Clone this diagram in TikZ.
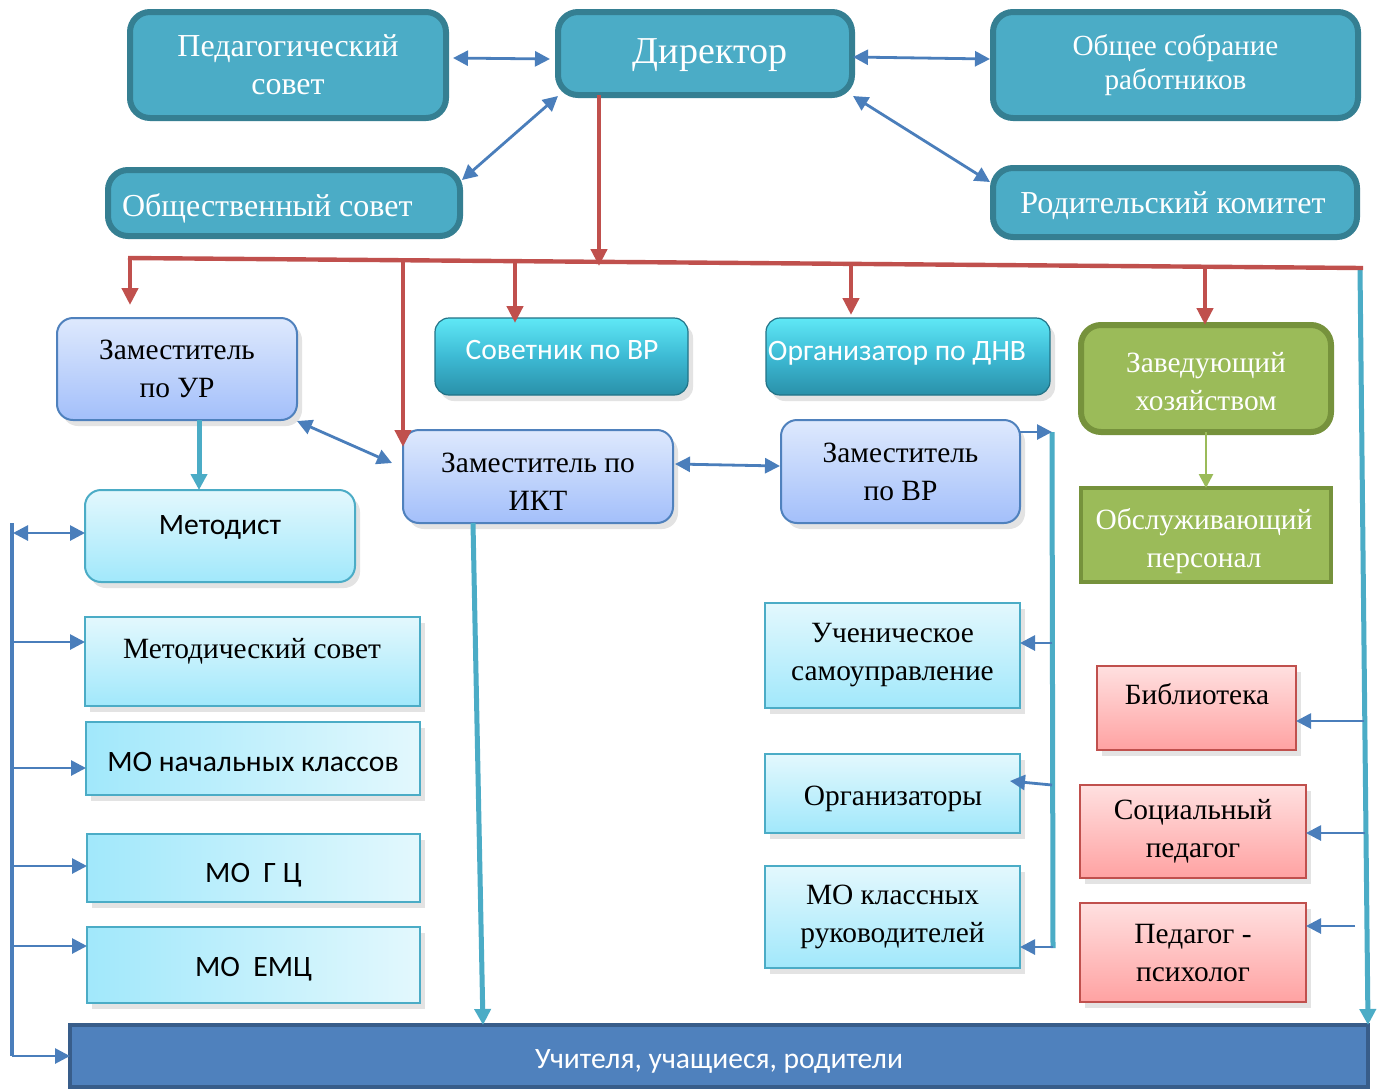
\documentclass[tikz,border=0pt]{standalone}
\usepackage{fontspec}
\setmainfont{Liberation Serif}
\newfontfamily\carl{Carlito}
\usetikzlibrary{arrows.meta,shadows,calc}
\definecolor{tFill}{HTML}{4BACC6}
\definecolor{tBord}{HTML}{357F92}
\definecolor{arrBlue}{HTML}{4A7EBB}
\definecolor{redL}{HTML}{C0504D}
\definecolor{tealL}{HTML}{4BACC6}
\definecolor{bTop}{HTML}{DEE9FD}
\definecolor{bBot}{HTML}{A3BFFA}
\definecolor{bBord}{HTML}{4F81BD}
\definecolor{cTop}{HTML}{E3F8FD}
\definecolor{cBot}{HTML}{A1E8FB}
\definecolor{cBord}{HTML}{4BACC6}
\definecolor{rTop}{HTML}{FFE0E0}
\definecolor{rBot}{HTML}{FFA2A2}
\definecolor{rBord}{HTML}{C0504D}
\definecolor{gFill}{HTML}{9BBB59}
\definecolor{gBord}{HTML}{76923C}
\definecolor{gArr}{HTML}{9BBB59}
\definecolor{sTop}{HTML}{5FE8F6}
\definecolor{sMid}{HTML}{3DBAD4}
\definecolor{sBot}{HTML}{2A90A9}
\definecolor{uFill}{HTML}{4F81BD}
\definecolor{uBord}{HTML}{385D8A}
\newcommand\mkbox[6]{\node[#6,anchor=north west,minimum width={(#4-#2)*0.5pt},minimum height={(#5-#3)*0.5pt}] (#1) at (#2,#3)}
\begin{document}
\begin{tikzpicture}[x=0.5pt,y=-0.5pt,
  every node/.style={inner sep=0pt,outer sep=0pt,align=center},
  shad/.style={drop shadow={shadow xshift=2.5pt,shadow yshift=-3pt,opacity=0.22}},
  serifA/.style={font=\fontsize{14.7}{19}\selectfont},
  serifB/.style={font=\fontsize{16}{19}\selectfont},
  sansA/.style={font=\carl\fontsize{14.8}{18}\selectfont},
  topbox/.style={draw=tBord,line width=3pt,fill=tFill,rounded corners=10pt,text=white,serifB},
  bluebox/.style={shad,draw=bBord,line width=1pt,top color=bTop,bottom color=bBot,rounded corners=8pt,serifA},
  cyanbox/.style={shad,draw=cBord,line width=1pt,top color=cTop,bottom color=cBot,serifA},
  hcyan/.style={shad,draw=cBord,line width=1pt,left color=cBot,right color=cTop,sansA},
  redbox/.style={shad,draw=rBord,line width=1pt,top color=rTop,bottom color=rBot,serifA},
  greenbox/.style={draw=gBord,line width=3pt,fill=gFill,text=white,serifA},
  glossbox/.style={shad,draw=sBot!80!black,line width=0.6pt,top color=sTop,bottom color=sBot,middle color=sMid,rounded corners=7pt},
  allbox/.style={draw=uBord,line width=2pt,fill=uFill,text=white,sansA},
  redarr/.style={draw=redL,line width=2.2pt,-{Triangle[length=8.5pt,width=8pt]}},
  redline/.style={draw=redL,line width=2.2pt},
  tealarr/.style={draw=tealL,line width=2.5pt,-{Triangle[length=8pt,width=8pt]}},
  tealline/.style={draw=tealL,line width=2.5pt},
  greenarr/.style={draw=gArr,line width=1.3pt,-{Triangle[length=7pt,width=7pt]}},
  barr/.style={draw=arrBlue,line width=1.4pt,-{Triangle[length=7.5pt,width=7.5pt]}},
  barrr/.style={draw=arrBlue,line width=1.4pt,{Triangle[length=7.5pt,width=7.5pt]}-{Triangle[length=7.5pt,width=7.5pt]}},
  bline/.style={draw=arrBlue,line width=2.2pt}
]
\useasboundingbox[fill=white] (0,0) rectangle (1382,1089);

% top level
\mkbox{ped}{130}{12}{446}{118}{topbox}{Педагогический\\совет};
\mkbox{dir}{558}{12}{852}{95}{topbox}{};
\node[text=white,font=\fontsize{19}{22}\selectfont] (dirt) at (710,55) {Директор};
\mkbox{obs}{993}{12}{1358}{118}{topbox,font=\fontsize{14.6}{17}\selectfont}{Общее собрание\\работников};
\mkbox{obsc}{108}{170}{460}{236}{topbox}{};
\node[text=white,serifB,anchor=mid west] (obsct) at (122,212) {Общественный совет};
\mkbox{rod}{993}{168}{1357}{237}{topbox}{};
\node[text=white,serifB] (rodt) at (1173,205.5) {Родительский комитет};

% second level
\mkbox{ur}{57}{318}{297}{420}{bluebox}{Заместитель\\по УР};
\mkbox{met}{85}{490}{355}{582}{cyanbox,rounded corners=8pt}{};
\node[sansA] (mett) at (220,527) {Методист};
\mkbox{ikt}{403}{430}{673}{523}{bluebox}{};
\node[serifA] (iktt) at (538,482) {Заместитель по\\ИКТ};
\mkbox{vr}{781}{420}{1020}{523}{bluebox}{Заместитель\\по ВР};
\mkbox{sov}{435}{318}{688}{395}{glossbox}{};
\node[sansA,text=white] (sovt) at (562,350) {Советник по ВР};
\mkbox{org}{766}{318}{1050}{395}{glossbox}{};
\node[sansA,text=white] (orgt) at (897,353) {Организатор по ДНВ};
\mkbox{zav}{1081}{325}{1331}{432}{greenbox,rounded corners=10pt}{};
\node[serifA,text=white] (zavt) at (1206,382) {Заведующий\\хозяйством};
\mkbox{obsl}{1081}{488}{1331}{582}{greenbox,line width=2.2pt}{};
\node[serifA,text=white] (obslt) at (1204,541) {Обслуживающий\\персонал};

% left column
\mkbox{msov}{85}{617}{420}{706}{cyanbox}{};
\node[serifA] (msovt) at (252,651) {Методический совет};
\mkbox{mon}{86}{722}{420}{795}{hcyan}{};
\node[sansA] (mont) at (253,762) {МО начальных классов};
\mkbox{mog}{87}{834}{420}{902}{hcyan}{};
\node[sansA] (mogt) at (253.5,875) {МО\ \ Г Ц};
\mkbox{moe}{87}{927}{420}{1003}{hcyan}{};
\node[sansA] (moet) at (253.5,969) {МО\ \ ЕМЦ};

% middle column
\mkbox{uch}{765}{603}{1020}{708}{cyanbox}{Ученическое\\самоуправление};
\mkbox{orgs}{765}{754}{1020}{833}{cyanbox}{};
\node[serifA] (orgst) at (893,798.5) {Организаторы};
\mkbox{mok}{765}{866}{1020}{968}{cyanbox}{МО классных\\руководителей};

% right column
\mkbox{bib}{1097}{666}{1296}{750}{redbox}{};
\node[serifA] (bibt) at (1197,694) {Библиотека};
\mkbox{soc}{1080}{785}{1306}{878}{redbox}{Социальный\\педагог};
\mkbox{psy}{1080}{903}{1306}{1002}{redbox}{Педагог -\\психолог};

% bottom
\mkbox{all}{70}{1025}{1368}{1087}{allbox}{};
\node[sansA,text=white] (allt) at (719,1061) {Учителя, учащиеся, родители};

% red bus
\coordinate (busL) at (128,258);
\coordinate (busR) at (1363,268);
\draw[tealarr] (1360,268) -- (all.north east);
\draw[redline] (busL) -- (busR);
\coordinate (t0) at (599,266);
\draw[redarr] (dir.south -| t0) -- (t0);
\coordinate (t1) at (130,258);
\draw[redarr,shorten >=6.5pt] (t1) -- (t1 |- ur.north);
\coordinate (t2) at (403,260);
\draw[redarr,shorten >=-8.5pt] (t2) -- (t2 |- ikt.north);
\coordinate (t3) at (515,261);
\draw[redarr,shorten >=-2.5pt] (t3) -- (t3 |- sov.north);
\coordinate (t4) at (851,264);
\draw[redarr,shorten >=1.5pt] (t4) -- (t4 |- org.north);
\coordinate (t5) at (1205,267);
\draw[redarr] (t5) -- (t5 |- zav.north);

% top double arrows
\draw[barrr] ($(ped.east)+(7,-7)$) -- ($(dir.west)+(-8,5.5)$);
\draw[barrr] ($(dir.east)+(1,3.5)$) -- ($(obs.west)+(-3,-6)$);
\draw[barrr] ($(obsc.north east)+(2,10)$) -- ($(dir.south west)+(0,1)$);
\draw[barrr] ($(dir.south east)+(1,1)$) -- ($(rod.north west)+(-3,14)$);

% second level connectors
\draw[barrr] ($(ur.south east)+(0,1)$) -- ($(ikt.west)+(-11,-13.5)$);
\draw[barrr] ($(ikt.east)+(2,-12.5)$) -- ($(vr.west)+(-1,-5.5)$);
\coordinate (u1) at (199,420);
\draw[tealarr] (u1) -- (u1 |- met.north);
\draw[greenarr] (zav.south) -- (obsl.north);
\coordinate (k1) at (473,523);
\coordinate (k2) at (483,1025);
\draw[tealarr] (k1) -- (k2);

% middle vertical line
\coordinate (m1) at (1052,432);
\coordinate (m2) at (1053,948);
\draw[tealline] (m1) -- (m2);
\draw[barr] (vr.east |- m1) -- (m1);
\coordinate (m3) at (1052,643);
\draw[barr] (m3) -- (m3 -| uch.east);
\coordinate (m4) at (1052,785);
\coordinate (m4b) at (1010,781);
\draw[barr] (m4) -- (m4b);
\coordinate (m5) at (1053,947);
\draw[barr] (m5) -- (m5 -| mok.east);

% right branches
\coordinate (r1) at (1364,721);
\draw[barr] (r1) -- (r1 -| bib.east);
\coordinate (r2) at (1365,833);
\draw[barr] (r2) -- (r2 -| soc.east);
\coordinate (r3) at (1355,926);
\draw[barr] (r3) -- (r3 -| psy.east);

% left bus
\coordinate (l0) at (12,523);
\coordinate (l6) at (12,1056);
\draw[bline] (l0) -- (l6);
\coordinate (l1) at (13,533);
\draw[barrr] (l1) -- (l1 -| met.west);
\coordinate (l2) at (12,642);
\draw[barr] (l2) -- (l2 -| msov.west);
\coordinate (l3) at (12,768);
\draw[barr] (l3) -- (l3 -| mon.west);
\coordinate (l4) at (12,866);
\draw[barr] (l4) -- (l4 -| mog.west);
\coordinate (l5) at (12,946);
\draw[barr] (l5) -- (l5 -| moe.west);
\draw[barr] (l6) -- (l6 -| all.west);
\end{tikzpicture}
\end{document}
